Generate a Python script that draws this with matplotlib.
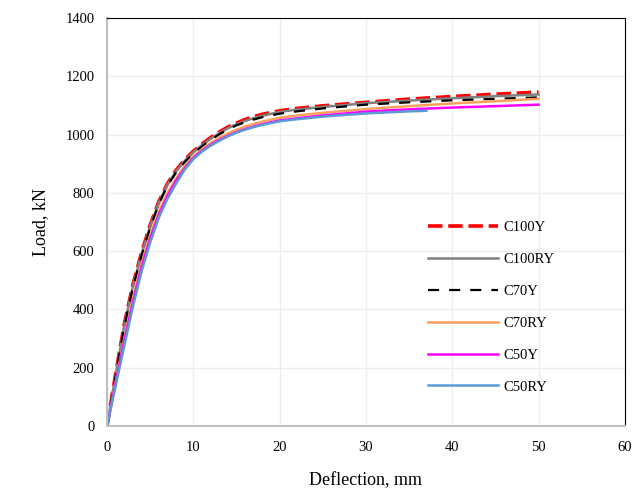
import matplotlib
matplotlib.use("Agg")
import matplotlib.pyplot as plt

plt.rcParams['font.family'] = ['Liberation Serif', 'DejaVu Serif']

x = [0, 1, 2, 3, 4, 5, 6, 7, 8, 9, 10, 11, 12, 13, 14, 15, 16, 17, 18, 20, 22, 25, 30, 35, 40, 45, 50]
c100y = [0, 178, 350, 485, 595, 690, 770, 832, 878, 914, 943, 968, 990, 1009, 1026, 1040, 1052, 1062, 1070,
         1082, 1090, 1099, 1111, 1122, 1131, 1139, 1146]
c100ry = [0, 175, 345, 480, 590, 685, 766, 828, 874, 910, 940, 964, 986, 1005, 1022, 1036, 1047, 1057, 1065,
          1078, 1086, 1095, 1108, 1117, 1125, 1132, 1138]
c70y = [0, 172, 340, 475, 585, 680, 762, 825, 870, 906, 935, 960, 982, 1001, 1018, 1032, 1043, 1052, 1060,
        1072, 1080, 1090, 1103, 1111, 1118, 1123, 1128]
c70ry = [0, 152, 300, 437, 556, 654, 736, 800, 850, 892, 925, 950, 971, 989, 1004, 1017, 1028, 1037, 1045,
         1058, 1066, 1075, 1088, 1098, 1107, 1115, 1123]
c50y = [0, 148, 292, 425, 545, 643, 725, 790, 842, 885, 920, 945, 965, 982, 996, 1009, 1019, 1028, 1036,
        1049, 1056, 1066, 1079, 1087, 1093, 1098, 1103]
x_c50ry = [0, 1, 2, 3, 4, 5, 6, 7, 8, 9, 10, 11, 12, 13, 14, 15, 16, 17, 18, 20, 22, 25, 30, 35, 37]
c50ry = [0, 138, 275, 410, 530, 630, 715, 780, 832, 880, 916, 942, 962, 979, 994, 1007, 1017, 1026, 1034,
         1046, 1053, 1062, 1073, 1080, 1082]

labels = ["C100Y", "C100RY", "C70Y", "C70RY", "C50Y", "C50RY"]
xticks = [0, 10, 20, 30, 40, 50, 60]
yticks = [0, 200, 400, 600, 800, 1000, 1200, 1400]

fig = plt.figure(figsize=(6.37, 4.9), dpi=100)
ax = fig.add_axes([0.168, 0.1306, 0.813, 0.8324])

ax.plot(x, c100y, color="#FF0000", lw=2.6, dashes=(4, 1.6), label=labels[0])
ax.plot(x, c100ry, color="#808080", lw=1.8, label=labels[1])
ax.plot(x, c70y, color="#000000", lw=1.6, dashes=(5, 4.5), label=labels[2])
ax.plot(x, c70ry, color="#F9A05A", lw=1.8, label=labels[3])
ax.plot(x, c50y, color="#FF00FF", lw=1.8, label=labels[4])
ax.plot(x_c50ry, c50ry, color="#5B9BD5", lw=1.8, label=labels[5])

ax.set_xlim(0, 60)
ax.set_ylim(0, 1400)
ax.set_xticks(xticks)
ax.set_yticks(yticks)
ax.grid(True, color="#EDEDED", lw=1)
ax.set_axisbelow(True)
ax.tick_params(length=0, labelsize=10.5)
ax.tick_params(axis='x', pad=11)
ax.tick_params(axis='y', pad=9)

for s in ['left', 'bottom']:
    ax.spines[s].set_color('#BFBFBF')
    ax.spines[s].set_linewidth(1.5)
for s in ['top', 'right']:
    ax.spines[s].set_color('#000000')
    ax.spines[s].set_linewidth(0.8)

ax.set_xlabel("Deflection, mm", fontsize=13, labelpad=13)
ax.set_ylabel("Load, kN", fontsize=13, labelpad=12)

ax.legend(loc='center left', bbox_to_anchor=(0.672, 0.373), bbox_transform=fig.transFigure,
          frameon=False, fontsize=10.5, handlelength=4.8, labelspacing=1.28,
          borderpad=0, borderaxespad=0, handletextpad=0.35)

fig.savefig("out.png", dpi=100)
